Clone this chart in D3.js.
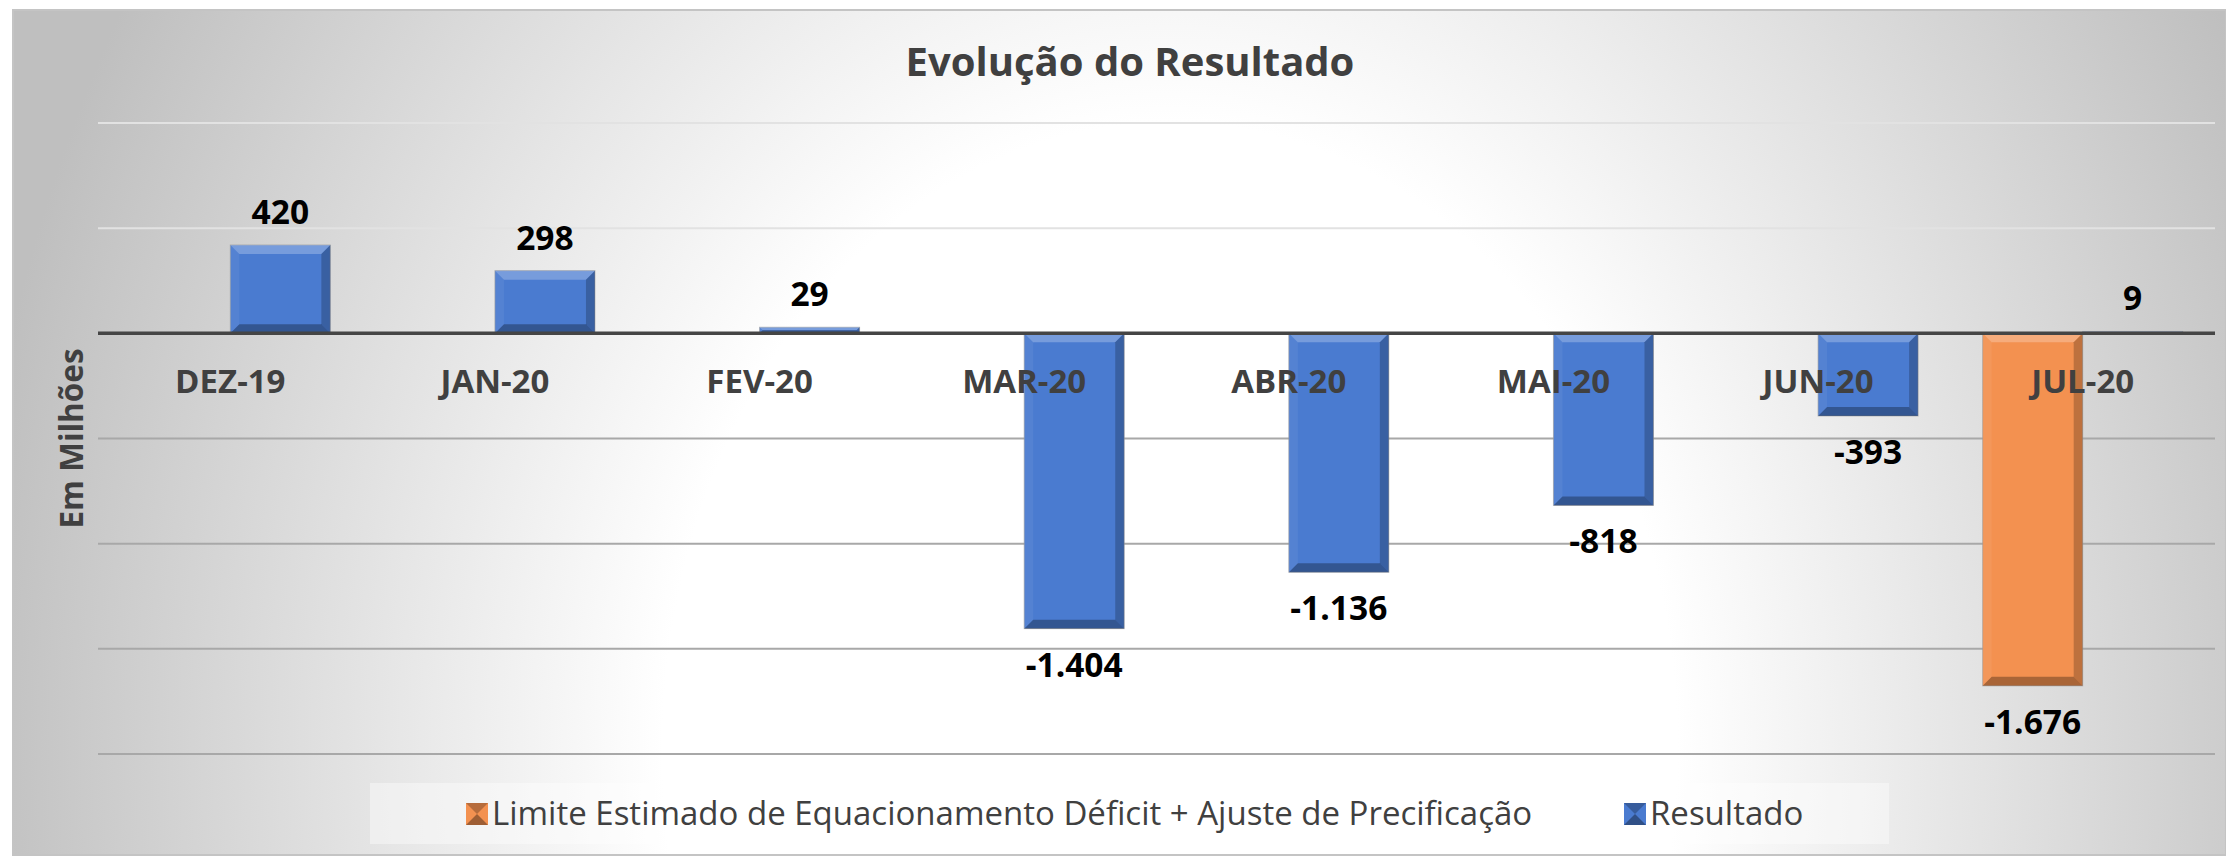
<!DOCTYPE html>
<html>
<head>
<meta charset="utf-8">
<script src="https://cdn.jsdelivr.net/npm/d3@7"></script>
<style>
  html, body { margin: 0; padding: 0; background: #ffffff; }
  svg { display: block; }
  text { font-family: "Open Sans", "DejaVu Sans", sans-serif; }
</style>
</head>
<body>
<svg id="chart" width="2226" height="856"></svg>
<script>
// ---- data ----
const categories = ["DEZ-19", "JAN-20", "FEV-20", "MAR-20", "ABR-20", "MAI-20", "JUN-20", "JUL-20"];
const seriesNames = ["Limite Estimado de Equacionamento Déficit + Ajuste de Precificação", "Resultado"];
const limiteValues = [null, null, null, null, null, null, null, -1676];
const resultadoValues = [420, 298, 29, -1404, -1136, -818, -393, 9];
const yTicks = [1000, 500, 0, -500, -1000, -1500, -2000];
const chartTitle = "Evolução do Resultado";
const yAxisTitle = "Em Milhões";

const seriesColors = ["#f39150", "#4a7bd0"];
const seriesValues = [limiteValues, resultadoValues];

const fmt = v => {
  const s = Math.abs(v).toString().replace(/\B(?=(\d{3})+(?!\d))/g, ".");
  return (v < 0 ? "-" : "") + s;
};

const svg = d3.select("#chart");
const W = 2226, H = 856;

// ---- background ----
const defs = svg.append("defs");
const bg = defs.append("radialGradient")
  .attr("id", "bgGrad")
  .attr("gradientUnits", "userSpaceOnUse")
  .attr("cx", 1170).attr("cy", 750).attr("r", 1150)
  .attr("gradientTransform", "translate(1170,750) scale(1.05,1.3) translate(-1170,-750)");
bg.append("stop").attr("offset", 0).attr("stop-color", "#ffffff");
bg.append("stop").attr("offset", 0.42).attr("stop-color", "#ffffff");
bg.append("stop").attr("offset", 1).attr("stop-color", "#bfbfbf");

svg.append("rect")
  .attr("x", 13).attr("y", 10).attr("width", W - 13).attr("height", 845)
  .attr("fill", "url(#bgGrad)")
  .attr("stroke", "#c4c4c4").attr("stroke-width", 2);

// ---- scales ----
const plot = { left: 98, right: 2215, top: 123, bottom: 754 };
const x0 = d3.scaleBand().domain(categories)
  .range([plot.left, plot.right])
  .paddingInner(0.244).paddingOuter(0.122);
const x1 = d3.scaleBand().domain(seriesNames).range([0, x0.bandwidth()]);
const y = d3.scaleLinear().domain([-2000, 1000]).range([plot.bottom, plot.top]);

// ---- gridlines ----
const grid = svg.append("g").attr("class", "grid");
grid.selectAll("line").data(yTicks.filter(t => t !== 0)).join("line")
  .attr("x1", plot.left).attr("x2", plot.right)
  .attr("y1", d => y(d)).attr("y2", d => y(d))
  .attr("stroke", d => d > 0 ? "#e2e2e2" : "#a8a8a8")
  .attr("stroke-width", 2);

// ---- title ----
svg.append("text")
  .attr("x", 1130).attr("y", 76)
  .attr("text-anchor", "middle")
  .attr("font-size", 40).attr("font-weight", 700)
  .attr("fill", "#404040")
  .text(chartTitle);

// ---- y axis title ----
svg.append("text")
  .attr("transform", `translate(83, ${(plot.top + plot.bottom) / 2}) rotate(-90)`)
  .attr("text-anchor", "middle")
  .attr("font-size", 31.5).attr("font-weight", 700)
  .attr("fill", "#404040")
  .text(yAxisTitle);

// ---- bars ----
const bars = [];
seriesNames.forEach((s, si) => {
  seriesValues[si].forEach((v, ci) => {
    if (v === null) return;
    bars.push({ series: s, si, cat: categories[ci], value: v });
  });
});

const barG = svg.append("g");
const labelG = svg.append("g");
bars.forEach(b => {
  const bx = x0(b.cat) + x1(b.series);
  const bw = x1.bandwidth();
  const yTop = y(Math.max(0, b.value));
  const yBot = y(Math.min(0, b.value));
  const bh = Math.max(yBot - yTop, 1.5);
  const g = barG.append("g");
  g.append("rect")
    .attr("x", bx).attr("y", yTop).attr("width", bw).attr("height", bh)
    .attr("fill", seriesColors[b.si])
    .attr("stroke", "#9a9a9a").attr("stroke-opacity", 0.6).attr("stroke-width", 1);
  const bv = Math.min(9, bh / 2);
  const x2 = bx + bw, y2 = yTop + bh;
  const poly = (pts, fill, op) => g.append("polygon")
    .attr("points", pts.map(p => p.join(",")).join(" "))
    .attr("fill", fill).attr("fill-opacity", op);
  poly([[bx, yTop], [x2, yTop], [x2 - bv, yTop + bv], [bx + bv, yTop + bv]], "#ffffff", 0.25);
  poly([[bx, y2], [x2, y2], [x2 - bv, y2 - bv], [bx + bv, y2 - bv]], "#000000", 0.3);
  poly([[bx, yTop], [bx + bv, yTop + bv], [bx + bv, y2 - bv], [bx, y2]], "#ffffff", 0.06);
  poly([[x2, yTop], [x2 - bv, yTop + bv], [x2 - bv, y2 - bv], [x2, y2]], "#000000", 0.22);
  // data label
  const lx = bx + bw / 2;
  const ly = b.value >= 0 ? yTop - 21 : y2 + 48;
  labelG.append("text")
    .attr("x", lx).attr("y", ly)
    .attr("text-anchor", "middle")
    .attr("font-size", 33.5).attr("font-weight", 700)
    .attr("fill", "#000000")
    .text(fmt(b.value));
});

// ---- zero line ----
svg.append("line")
  .attr("x1", plot.left).attr("x2", plot.right)
  .attr("y1", y(0)).attr("y2", y(0))
  .attr("stroke", "#454545").attr("stroke-width", 3.5);

// ---- category labels (drawn over bars) ----
svg.append("g").selectAll("text").data(categories).join("text")
  .attr("x", d => x0(d) + x0.bandwidth() / 2)
  .attr("y", 393)
  .attr("text-anchor", "middle")
  .attr("font-size", 33).attr("font-weight", 700)
  .attr("fill", "#404040")
  .text(d => d);

// ---- legend ----
const legend = svg.append("g");
legend.append("rect")
  .attr("x", 370).attr("y", 783).attr("width", 1519).attr("height", 61)
  .attr("fill", "#ffffff").attr("fill-opacity", 0.4);
const legendItems = [
  { name: seriesNames[0], color: seriesColors[0], mx: 466 },
  { name: seriesNames[1], color: seriesColors[1], mx: 1624 }
];
legendItems.forEach(it => {
  const s = 22, my = 803;
  legend.append("rect").attr("x", it.mx).attr("y", my).attr("width", s).attr("height", s)
    .attr("fill", it.color);
  legend.append("polygon")
    .attr("points", `${it.mx},${my} ${it.mx + s},${my} ${it.mx + s / 2},${my + s / 2}`)
    .attr("fill", "#000").attr("fill-opacity", 0.25);
  legend.append("polygon")
    .attr("points", `${it.mx},${my + s} ${it.mx + s},${my + s} ${it.mx + s / 2},${my + s / 2}`)
    .attr("fill", "#000").attr("fill-opacity", 0.35);
  legend.append("text")
    .attr("x", it.mx + s + 4).attr("y", 825)
    .attr("font-size", 33).attr("font-weight", 400)
    .attr("fill", "#404040")
    .text(it.name);
});
</script>
</body>
</html>
